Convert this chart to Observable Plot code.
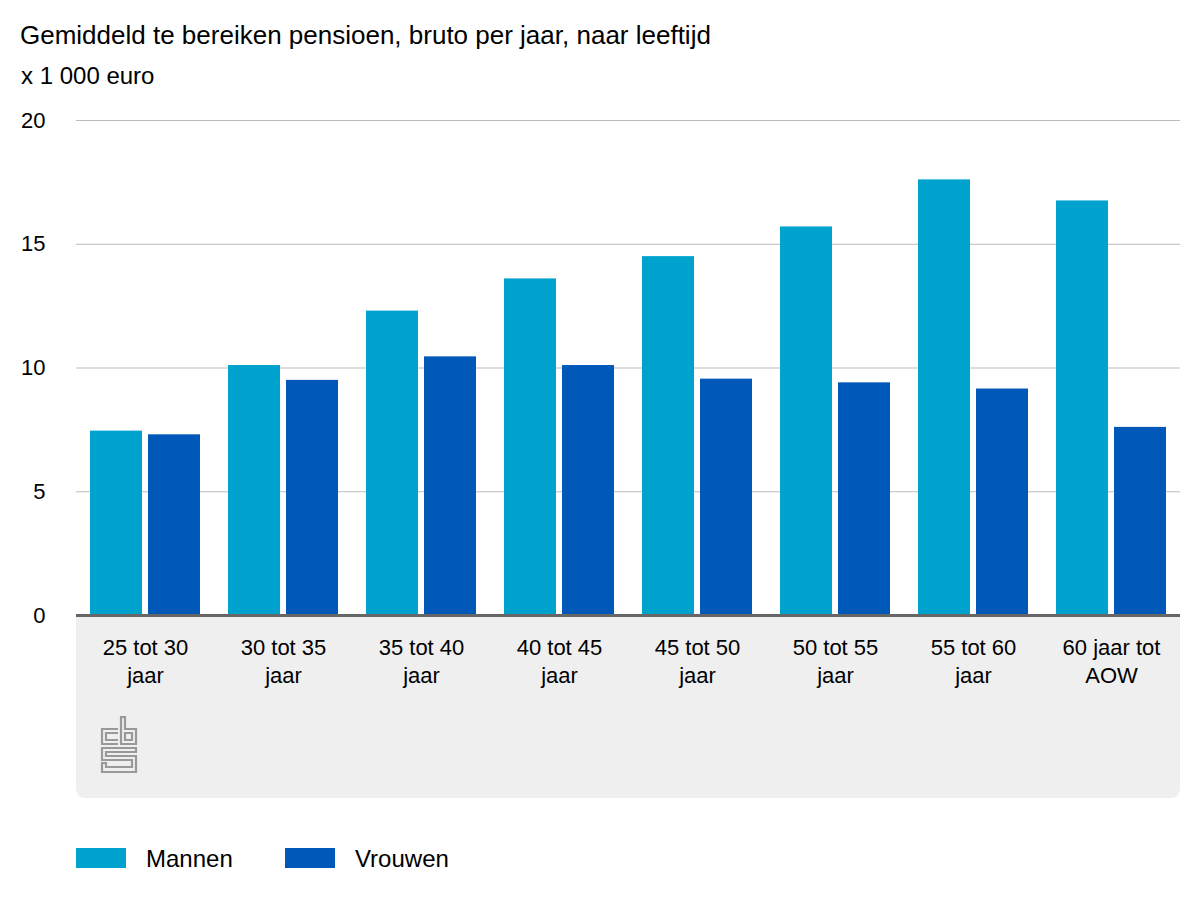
<!DOCTYPE html>
<html><head><meta charset="utf-8">
<script src="https://cdn.jsdelivr.net/npm/d3@7"></script>
<script src="https://cdn.jsdelivr.net/npm/@observablehq/plot@0.6"></script>
<style>
body{margin:0;background:#fff;font-family:"Liberation Sans",Arial,Helvetica,sans-serif;color:#000;}
#wrap{position:relative;width:1200px;height:900px;overflow:hidden;}
.t{position:absolute;white-space:nowrap;font-size:24px;line-height:normal;}
#chart{position:absolute;left:0;top:100px;}
.sw{position:absolute;width:50px;height:20px;top:848px;}
</style></head><body><div id="wrap">
<div class="t" style="left:20px;top:20px;font-size:26px;">Gemiddeld te bereiken pensioen, bruto per jaar, naar leeftijd</div>
<div class="t" style="left:21px;top:62px;">x 1 000 euro</div>
<div id="chart"></div>
<div id="legend"></div>
</div>
<script>
const categories = ["25 tot 30 jaar","30 tot 35 jaar","35 tot 40 jaar","40 tot 45 jaar","45 tot 50 jaar","50 tot 55 jaar","55 tot 60 jaar","60 jaar tot AOW"];
const tickLabels = ["25 tot 30\njaar","30 tot 35\njaar","35 tot 40\njaar","40 tot 45\njaar","45 tot 50\njaar","50 tot 55\njaar","55 tot 60\njaar","60 jaar tot\nAOW"];
const mannen = [7.45, 10.1, 12.3, 13.6, 14.5, 15.7, 17.6, 16.75];
const vrouwen = [7.3, 9.5, 10.45, 10.1, 9.55, 9.4, 9.15, 7.6];
const series = ["Mannen","Vrouwen"];
const colors = ["#00A2CE","#0058B8"];
const yTicks = [0, 5, 10, 15, 20];

const rowsM = categories.map((c, i) => ({cat: c, sex: series[0], value: mannen[i]}));
const rowsV = categories.map((c, i) => ({cat: c, sex: series[1], value: vrouwen[i]}));

function panel(index, scales, values, dims) {
  const y = scales.y;
  const g = d3.create("svg:g");
  const x0 = dims.marginLeft, x1 = dims.width - dims.marginRight;
  const y0 = y(0), y1 = dims.height - 12, r = 10;
  g.append("path")
    .attr("d", `M${x0},${y0}H${x1}V${y1 - r}Q${x1},${y1} ${x1 - r},${y1}H${x0 + r}Q${x0},${y1} ${x0},${y1 - r}Z`)
    .attr("fill", "#efefef");
  const lg = g.append("g")
    .attr("transform", `translate(${x0 + 25},${y0 + 102})`)
    .attr("fill", "none").attr("stroke", "#999").attr("stroke-width", 2.2)
    .attr("stroke-linejoin", "miter");
  // stylised CBS logo
  lg.append("path").attr("d", "M17,12H1V27H17M17,16H5V23H17");
  lg.append("path").attr("d", "M20,0V27H35V12H24V0Z");
  lg.append("path").attr("d", "M24,16H31V23H24Z");
  lg.append("path").attr("d", "M35,31H1V43H31V50H5V46H1V55H35V39H5V35H35Z");
  return g.node();
}

const chart = Plot.plot({
  width: 1200,
  height: 710,
  marginLeft: 76,
  marginRight: 20,
  marginTop: 20,
  marginBottom: 195,
  style: {fontFamily: "'Liberation Sans', Arial, Helvetica, sans-serif", fontSize: "22px", color: "#000", background: "transparent"},
  x: {domain: categories, paddingInner: 0.2029, paddingOuter: 0.1014},
  y: {domain: [0, 20]},
  color: {domain: series, range: colors},
  marks: [
    panel,
    Plot.gridY(yTicks, {stroke: "#bbb", strokeOpacity: 1, strokeWidth: 1}),
    Plot.barY(rowsM, {x: "cat", y: "value", fill: "sex", insetRight: 58}),
    Plot.barY(rowsV, {x: "cat", y: "value", fill: "sex", insetLeft: 58}),
    Plot.ruleY([0], {stroke: "#666", strokeWidth: 3}),
    Plot.axisY({ticks: yTicks, tickSize: 0, tickPadding: 31, label: null, tickFormat: d => String(d)}),
    Plot.axisX({tickSize: 0, tickPadding: 20, label: null, lineHeight: 1.25,
      tickFormat: d => tickLabels[categories.indexOf(d)]})
  ]
});
document.getElementById("chart").appendChild(chart);

const legend = document.getElementById("legend");
const legendLeft = [76, 285];
series.forEach((s, i) => {
  const sw = document.createElement("div");
  sw.className = "sw";
  sw.style.left = legendLeft[i] + "px";
  sw.style.background = colors[i];
  legend.appendChild(sw);
  const t = document.createElement("div");
  t.className = "t";
  t.style.left = (legendLeft[i] + 70) + "px";
  t.style.top = "845px";
  t.textContent = s;
  legend.appendChild(t);
});
</script>
</body></html>
